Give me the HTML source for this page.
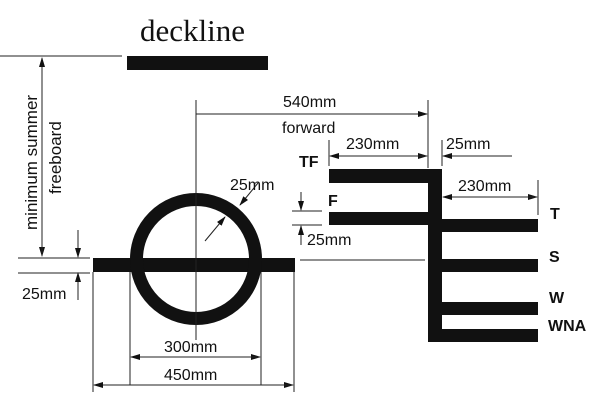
<!DOCTYPE html>
<html><head><style>body{margin:0;background:#fff}svg{display:block}text{font-family:"Liberation Sans",sans-serif;font-size:16px;fill:#111}.b{font-weight:bold}</style></head><body>
<svg width="605" height="407" viewBox="0 0 605 407" xmlns="http://www.w3.org/2000/svg">
<defs><marker id="a" markerWidth="10" markerHeight="6" refX="9" refY="3" orient="auto" markerUnits="userSpaceOnUse"><path d="M0,0L10,3L0,6z" fill="#111"/></marker></defs>
<text x="140" y="41" style="font-family:'Liberation Serif',serif;font-size:31px">deckline</text>
<g fill="#111">
<rect x="127" y="56" width="141" height="14"/>
<rect x="93" y="258" width="202" height="14"/>
<rect x="329" y="169" width="113" height="14"/>
<rect x="428" y="169" width="14" height="173"/>
<rect x="329" y="212" width="100" height="13"/>
<rect x="442" y="219" width="96" height="13"/>
<rect x="442" y="259" width="96" height="13"/>
<rect x="442" y="302" width="96" height="13"/>
<rect x="442" y="329" width="96" height="13"/>
</g>
<circle cx="196" cy="259" r="59.5" fill="none" stroke="#111" stroke-width="13"/>
<g stroke="#222" stroke-width="1" fill="none">
<line x1="0" y1="56" x2="122" y2="56"/>
<line x1="42" y1="58" x2="42" y2="256" marker-end="url(#a)"/>
<line x1="42" y1="256" x2="42" y2="58" marker-end="url(#a)"/>
<line x1="18" y1="258" x2="90" y2="258"/>
<line x1="18" y1="273" x2="90" y2="273"/>
<line x1="78" y1="230" x2="78" y2="257" marker-end="url(#a)"/>
<line x1="78" y1="300" x2="78" y2="273" marker-end="url(#a)"/>
<line x1="196" y1="100" x2="196" y2="340"/>
<line x1="258" y1="183" x2="240" y2="205" marker-end="url(#a)"/>
<line x1="205" y1="241" x2="225" y2="217" marker-end="url(#a)"/>
<line x1="130" y1="272" x2="130" y2="385"/>
<line x1="261" y1="272" x2="261" y2="385"/>
<line x1="93" y1="272" x2="93" y2="392"/>
<line x1="294" y1="272" x2="294" y2="392"/>
<line x1="131" y1="357" x2="260" y2="357" marker-end="url(#a)"/>
<line x1="260" y1="357" x2="131" y2="357" marker-end="url(#a)"/>
<line x1="94" y1="385" x2="293" y2="385" marker-end="url(#a)"/>
<line x1="293" y1="385" x2="94" y2="385" marker-end="url(#a)"/>
<line x1="196" y1="114" x2="427" y2="114" marker-end="url(#a)"/>
<line x1="428" y1="100" x2="428" y2="168"/>
<line x1="329" y1="140" x2="329" y2="166"/>
<line x1="330" y1="156" x2="427" y2="156" marker-end="url(#a)"/>
<line x1="427" y1="156" x2="330" y2="156" marker-end="url(#a)"/>
<line x1="442" y1="140" x2="442" y2="166"/>
<line x1="512" y1="156" x2="443" y2="156" marker-end="url(#a)"/>
<line x1="538" y1="180" x2="538" y2="215"/>
<line x1="443" y1="197" x2="537" y2="197" marker-end="url(#a)"/>
<line x1="537" y1="197" x2="443" y2="197" marker-end="url(#a)"/>
<line x1="292" y1="211" x2="322" y2="211"/>
<line x1="292" y1="225" x2="322" y2="225"/>
<line x1="301" y1="192" x2="301" y2="210" marker-end="url(#a)"/>
<line x1="301" y1="245" x2="301" y2="226" marker-end="url(#a)"/>
<line x1="300" y1="260" x2="425" y2="260"/>
</g>
<text transform="translate(37,230) rotate(-90)" style="font-size:17px">minimum summer</text>
<text transform="translate(61,194) rotate(-90)" style="font-size:17px">freeboard</text>
<text x="22" y="299">25mm</text>
<text x="230" y="190">25mm</text>
<text x="164" y="352">300mm</text>
<text x="164" y="380">450mm</text>
<text x="283" y="107">540mm</text>
<text x="282" y="133">forward</text>
<text x="346" y="149">230mm</text>
<text x="446" y="149">25mm</text>
<text x="458" y="191">230mm</text>
<text x="299" y="167" class="b">TF</text>
<text x="328" y="206" class="b">F</text>
<text x="307" y="245">25mm</text>
<text x="550" y="219" class="b">T</text>
<text x="549" y="262" class="b">S</text>
<text x="549" y="303" class="b">W</text>
<text x="548" y="331" class="b">WNA</text>
</svg>
</body></html>
